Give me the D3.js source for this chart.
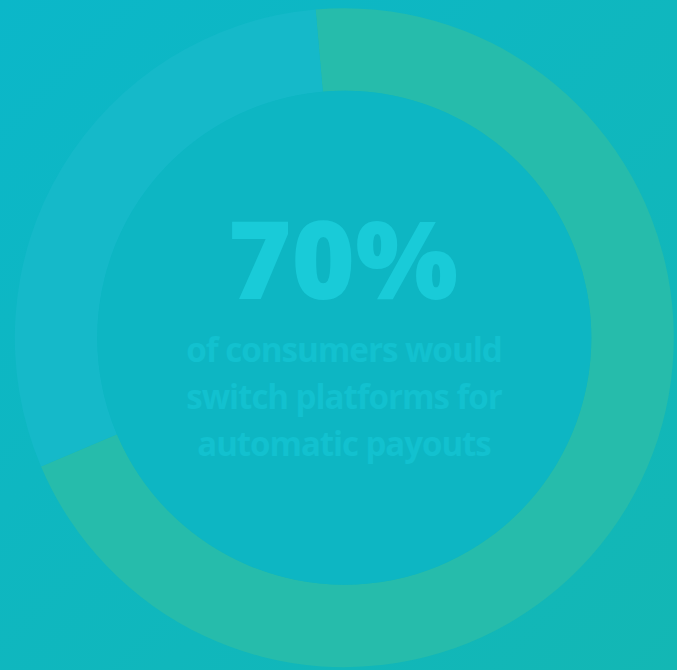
<!DOCTYPE html>
<html>
<head>
<meta charset="utf-8">
<script src="https://cdn.jsdelivr.net/npm/d3@7"></script>
<style>
  html, body { margin: 0; padding: 0; background: #0fb7c4; }
  svg { display: block; }
</style>
</head>
<body>
<svg id="chart" width="677" height="670"></svg>
<script>
// Share of consumers who would switch platforms for automatic payouts
const categories = ["Would switch", "Would not switch"];
const shares = [70, 30];
const headline = "70%";
const captionLines = ["of consumers would", "switch platforms for", "automatic payouts"];

const W = 677, H = 670;
const cx = 344.3, cy = 337.7;
const outerR = 329.5, innerR = 247;

const svg = d3.select("#chart");

// soft diagonal background wash
const defs = svg.append("defs");
const bg = defs.append("linearGradient").attr("id", "bg")
  .attr("x1", "0%").attr("y1", "0%").attr("x2", "100%").attr("y2", "100%");
bg.append("stop").attr("offset", "0%").attr("stop-color", "#0bb7c9");
bg.append("stop").attr("offset", "100%").attr("stop-color", "#13b7b4");
svg.append("rect").attr("width", W).attr("height", H).attr("fill", "url(#bg)");

const color = d3.scaleOrdinal()
  .domain(categories)
  .range(["#26bcab", "#15b9c9"]);

const deg = Math.PI / 180;
const pie = d3.pie()
  .value(d => d.value)
  .sort(null)
  .startAngle(-5 * deg)
  .endAngle(355 * deg);

const arc = d3.arc().innerRadius(innerR).outerRadius(outerR);

const data = categories.map((c, i) => ({ category: c, value: shares[i] }));

const g = svg.append("g").attr("transform", `translate(${cx},${cy})`);

g.selectAll("path.slice")
  .data(pie(data))
  .join("path")
  .attr("class", "slice")
  .attr("d", arc)
  .attr("fill", d => color(d.data.category));

// inner disc
g.append("circle").attr("r", innerR).attr("fill", "#0db6c3");

// scale a text element so it spans the wanted width
const fitText = (sel, targetWidth) => {
  const w = sel.node().getComputedTextLength();
  const fs = parseFloat(sel.attr("font-size"));
  sel.attr("font-size", fs * targetWidth / w);
};

const big = svg.append("text")
  .attr("x", 343).attr("y", 299)
  .attr("text-anchor", "middle")
  .attr("font-family", "'Open Sans', sans-serif")
  .attr("font-weight", 800)
  .attr("font-size", 112)
  .attr("fill", "#19cbd8")
  .text(headline);
fitText(big, 230);

const capWidths = [316, 316, 294];
const baselines = [362, 409, 456];
captionLines.forEach((line, i) => {
  const t = svg.append("text")
    .attr("x", 344).attr("y", baselines[i])
    .attr("text-anchor", "middle")
    .attr("font-family", "'Open Sans', sans-serif")
    .attr("font-weight", 700)
    .attr("font-size", 34)
    .attr("letter-spacing", -1.1)
    .attr("fill", "#12c1cf")
    .text(line);
  fitText(t, capWidths[i]);
});
</script>
</body>
</html>
